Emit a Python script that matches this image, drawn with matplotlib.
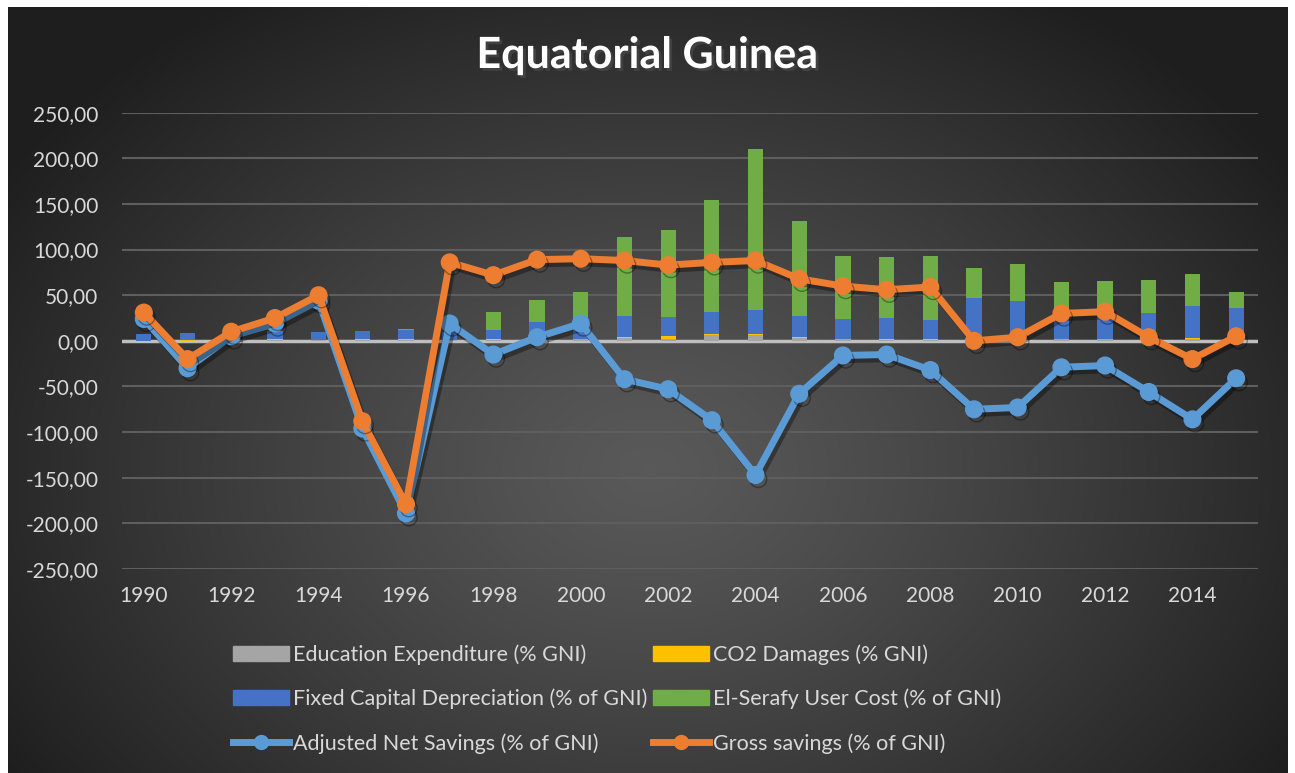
import numpy as np
import matplotlib
matplotlib.use("Agg")
import matplotlib.pyplot as plt
import matplotlib.patheffects as pe
from matplotlib.lines import Line2D
from matplotlib.patches import Patch

plt.rcParams['font.family'] = ['Lato', 'DejaVu Sans']

years = list(range(1990, 2016))
education = [0, 0, 0, 0.5, 1, 0.5, 0.5, 0.5, 1, 1, 1.5, 3, 2.5, 6, 6, 3, 1.5, 1, 1, 0.5, 1, 2.5, 2.5, 0.5, 2, 1]
co2 = [0, 1, 0.5, 1, 0, 1.5, 1.5, 0.5, 1.5, 1, 1, 1.5, 3, 2, 2, 1, 0.5, 1.5, 1.5, 0, 0, 0, 0, 0, 1, 0]
fixed_cap = [7, 8, 8, 9, 9, 9, 10, 9, 9, 19, 16, 22.5, 21, 24, 26, 23, 22, 22.5, 20.5, 47, 43, 27, 25, 30, 35, 35]
el_serafy = [0, 0, 0, 0, 0, 0, 1, 0, 20, 24, 35, 87, 95, 122, 176, 104, 69, 67, 70, 32, 40, 35, 38, 36, 35, 17]
ans = [24, -30, 5, 19, 44, -96, -189, 19, -15, 4, 19, -42, -53, -87, -147, -58, -16, -15, -32,
       -75, -73, -29, -27, -56, -86, -41]
gross = [31, -20, 10, 25, 50, -88, -179, 86, 72, 89, 90, 88, 83, 86, 88, 68, 60, 56, 59,
         0, 4, 30, 32, 4, -20, 5]
yticks = [250, 200, 150, 100, 50, 0, -50, -100, -150, -200, -250]

W, H = 1295, 773
fig = plt.figure(figsize=(W / 100, H / 100), dpi=100)
fig.patch.set_facecolor('white')

# dark radial background panel
bg = fig.add_axes([0, 0, 1, 1], zorder=-5)
bg.set_xlim(0, W)
bg.set_ylim(H, 0)
bg.axis('off')
px0, py0, px1, py1 = 8, 7, 1288, 773
xx, yy = np.meshgrid(np.linspace(px0, px1, 400), np.linspace(py0, py1, 260))
r = np.hypot((xx - 650) / 760, (yy - 470) / 560)
r = np.clip(r, 0, 1)
c = 0.35 - 0.23 * r ** 1.2
img = np.dstack([c, c, c])
bg.imshow(img, extent=[px0, px1, py1, py0], aspect='auto', interpolation='bilinear')

ax = fig.add_axes([122 / W, 1 - 569 / H, (1258 - 122) / W, (569 - 112.7) / H])
ax.set_facecolor('none')
x = np.arange(len(years))
bw = 0.35

b1 = np.array(education)
b2 = b1 + np.array(co2)
b3 = b2 + np.array(fixed_cap)
ax.bar(x, education, bw, color='#a5a5a5', zorder=3)
ax.bar(x, co2, bw, bottom=b1, color='#ffc000', zorder=3)
ax.bar(x, fixed_cap, bw, bottom=b2, color='#4472c4', zorder=3)
ax.bar(x, el_serafy, bw, bottom=b3, color='#70ad47', zorder=3)

lshadow = [pe.SimpleLineShadow(offset=(2, -3), alpha=0.35), pe.Normal()]
ax.plot(x, ans, color='#5b9bd5', lw=5, marker='o', ms=12, zorder=4, path_effects=lshadow)
ax.plot(x, gross, color='#ed7d31', lw=5, marker='o', ms=12, zorder=5, path_effects=lshadow)

ax.set_xlim(-0.5, len(years) - 0.5)
ax.set_ylim(-250, 250)
ax.set_yticks(yticks)
ax.set_yticklabels([f"{v:.2f}".replace('.', ',') for v in yticks])
ax.set_xticks(x[::2])
ax.set_xticklabels([str(y) for y in years[::2]])
ax.tick_params(length=0, labelsize=15, colors='#d9d9d9')
ax.tick_params(axis='y', pad=17)
ax.tick_params(axis='x', pad=12)
for s in ax.spines.values():
    s.set_visible(False)
ax.grid(axis='y', color='#5e5e5e', lw=1.5, zorder=0)
ax.axhline(0, color='#bfbfbf', lw=2.5, zorder=2)

fig.text(647 / W, 1 - 55 / H, 'Equatorial Guinea', ha='center', va='center',
         fontsize=31, fontweight='bold', color='white',
         path_effects=[pe.SimplePatchShadow(offset=(2, -2), alpha=0.6), pe.Normal()])

handles = [
    Patch(color='#a5a5a5', label='Education Expenditure (% GNI)'),
    Patch(color='#4472c4', label='Fixed Capital Depreciation (% of GNI)'),
    Line2D([], [], color='#5b9bd5', lw=5, marker='o', ms=10, label='Adjusted Net Savings (% of GNI)'),
    Patch(color='#ffc000', label='CO2 Damages (% GNI)'),
    Patch(color='#70ad47', label='El-Serafy User Cost (% of GNI)'),
    Line2D([], [], color='#ed7d31', lw=5, marker='o', ms=10, label='Gross savings (% of GNI)'),
]
leg = fig.legend(handles=handles, ncol=2, loc='upper left', bbox_to_anchor=(214 / W, 1 - 625 / H),
                 frameon=False, fontsize=15.5, labelcolor='#d9d9d9', handlelength=2.6,
                 handletextpad=0.15, columnspacing=0.3, labelspacing=1.1, numpoints=1)

fig.savefig('out.png', dpi=100, facecolor=fig.get_facecolor())
